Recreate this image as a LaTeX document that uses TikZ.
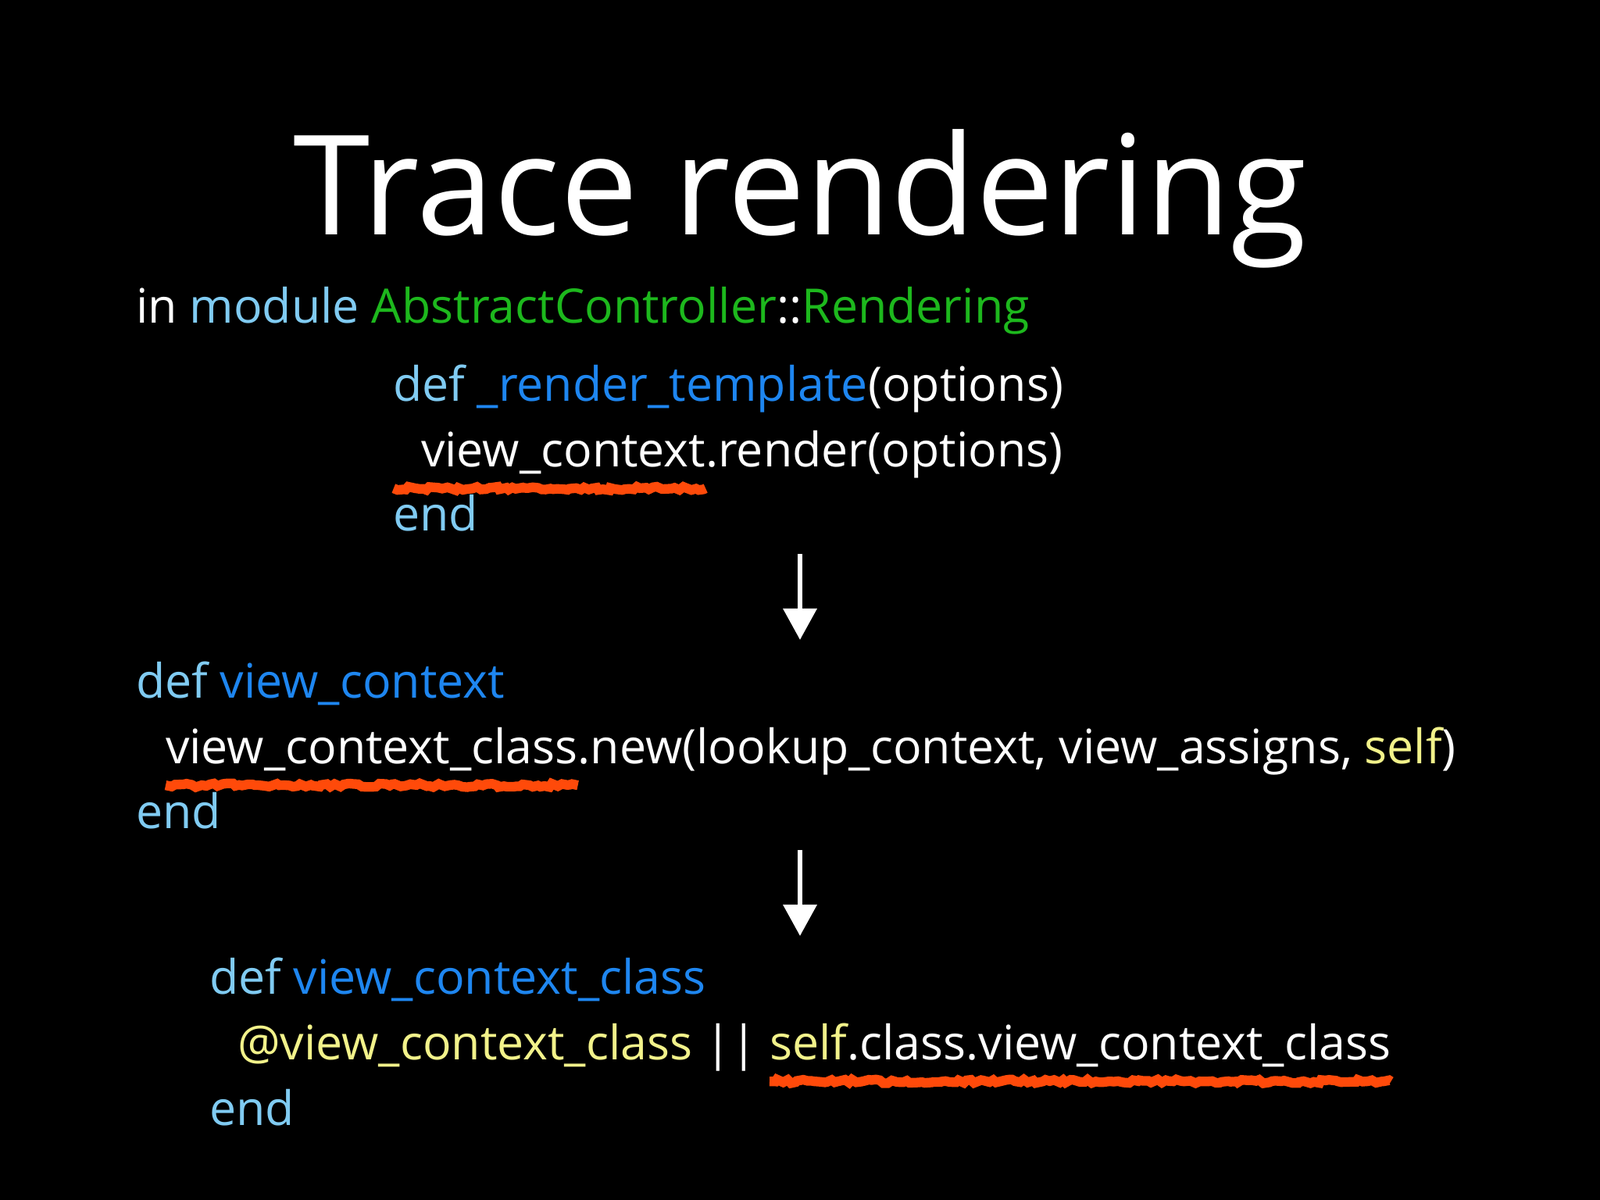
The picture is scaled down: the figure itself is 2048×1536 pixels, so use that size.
\documentclass[tikz,border=0pt]{standalone}
\usepackage{fontspec}
\setmainfont{Open Sans}
\usetikzlibrary{arrows.meta,decorations.pathmorphing}
\definecolor{kw}{HTML}{80CBF2}
\definecolor{meth}{HTML}{1E86F0}
\definecolor{grn}{HTML}{1DB81D}
\definecolor{yel}{HTML}{F2F28A}
\definecolor{org}{HTML}{FF4A0A}
\newcommand{\myspc}{\hspace*{0.26em}}
\begin{document}
\begin{tikzpicture}[x=0.01cm,y=-0.01cm,
  code/.style={anchor=base west,inner sep=0pt,outer sep=0pt,font=\fontsize{17.3}{20}\selectfont,text=white},
  uline/.style={draw=org,line width=3.5pt,decorate,decoration={random steps,segment length=1.5pt,amplitude=0.7pt}},
  flow/.style={draw=white,line width=0.065cm,-{Triangle[length=0.4cm,width=0.42cm]}}]
\fill[black] (0,0) rectangle (2048,1536);
\node[anchor=base,inner sep=0pt,text=white,font=\fontsize{50.5}{56}\selectfont] (title) at (1024,300) {Trace rendering};
% line 1
\node[code] (l1a) at (174,413) {in\myspc};
\node[code,text=kw] (l1b) at (l1a.base east) {module\myspc};
\node[code,text=grn] (l1c) at (l1b.base east) {AbstractController};
\node[code] (l1d) at (l1c.base east) {::};
\node[code,text=grn] (l1e) at (l1d.base east) {Rendering};
% block 1
\node[code,text=kw] (b1a) at (503,513) {def\myspc};
\node[code,text=meth] (b1b) at (b1a.base east) {\_render\_template};
\node[code] (b1c) at (b1b.base east) {(options)};
\node[code] (b1d) at (539,597) {view\_context};
\node[code] (b1e) at (b1d.base east) {.render(options)};
\node[code,text=kw] (b1f) at (503,679) {end};
\draw[uline] ([xshift=-10pt,yshift=-8pt]b1d.base west) -- ([yshift=-8pt]b1d.base east);
\coordinate (a1s) at (1024,709);
\coordinate (a1e) at (1024,819);
\draw[flow] (a1s) -- (a1e);
% block 2
\node[code,text=kw] (b2a) at (174,893) {def\myspc};
\node[code,text=meth] (b2b) at (b2a.base east) {view\_context};
\node[code] (b2c) at (212,977) {view\_context\_class};
\node[code] (b2d) at (b2c.base east) {.new(lookup\_context, view\_assigns,\myspc};
\node[code,text=yel] (b2e) at (b2d.base east) {self};
\node[code] (b2f) at (b2e.base east) {)};
\node[code,text=kw] (b2g) at (174,1060) {end};
\draw[uline] ([yshift=-8pt]b2c.base west) -- ([yshift=-8pt]b2c.base east);
\coordinate (a2s) at (1024,1088);
\coordinate (a2e) at (1024,1198);
\draw[flow] (a2s) -- (a2e);
% block 3
\node[code,text=kw] (b3a) at (268,1272) {def\myspc};
\node[code,text=meth] (b3b) at (b3a.base east) {view\_context\_class};
\node[code,text=yel] (b3c) at (304,1356) {@view\_context\_class};
\node[code] (b3d) at (b3c.base east) {\myspc||\myspc};
\node[code,text=yel] (b3e) at (b3d.base east) {self};
\node[code] (b3f) at (b3e.base east) {.class.view\_context\_class};
\node[code,text=kw] (b3g) at (268,1440) {end};
\draw[uline] ([yshift=-8pt]b3e.base west) -- ([yshift=-8pt]b3f.base east);
\end{tikzpicture}
\end{document}
